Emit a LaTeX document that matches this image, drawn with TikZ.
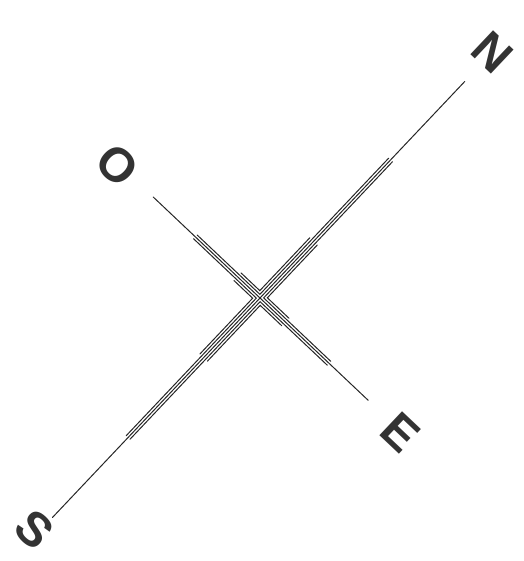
\documentclass[tikz,border=0pt]{standalone}
\usepackage{fontspec}
\setmainfont{Liberation Sans}
\begin{document}
\begin{tikzpicture}[x=1pt,y=1pt,
  ln/.style={line width=1.0pt, draw=black!85, line cap=round, line join=miter},
  letter/.style={font=\bfseries\fontsize{48}{48}\selectfont, rotate=-43.4, inner sep=0pt, text=black!80}]
\useasboundingbox (0,0) rectangle (523,-561);
\begin{scope}[shift={(260,-298)}, rotate=46.6]
  \def\s{2.6}
  \coordinate (S) at (-302,0);
  \coordinate (N) at (298,0);
  \coordinate (O) at (0,147);
  \coordinate (E) at (0,-149);
  \draw[ln] (S) -- (N);
  \draw[ln] (O) -- (E);
  % quadrant N-O
  \draw[ln] (190,\s) -- (\s,\s) -- (\s,89);
  \draw[ln] (78,2*\s) -- (2*\s,2*\s) -- (2*\s,31);
  % quadrant N-E
  \draw[ln] (190,-\s) -- (\s,-\s) -- (\s,-95);
  \draw[ln] (78,-2*\s) -- (2*\s,-2*\s) -- (2*\s,-35);
  % quadrant S-O
  \draw[ln] (-192,\s) -- (-\s,\s) -- (-\s,89);
  \draw[ln] (-82,2*\s) -- (-2*\s,2*\s) -- (-2*\s,31);
  % quadrant S-E
  \draw[ln] (-192,-\s) -- (-\s,-\s) -- (-\s,-95);
  \draw[ln] (-82,-2*\s) -- (-2*\s,-2*\s) -- (-2*\s,-35);
\end{scope}
\node[letter] (lN) at (492,-52) {N};
\node[letter] (lO) at (117,-165) {O};
\node[letter] (lE) at (400,-432) {E};
\node[letter] (lS) at (34,-529) {S};
\end{tikzpicture}
\end{document}
